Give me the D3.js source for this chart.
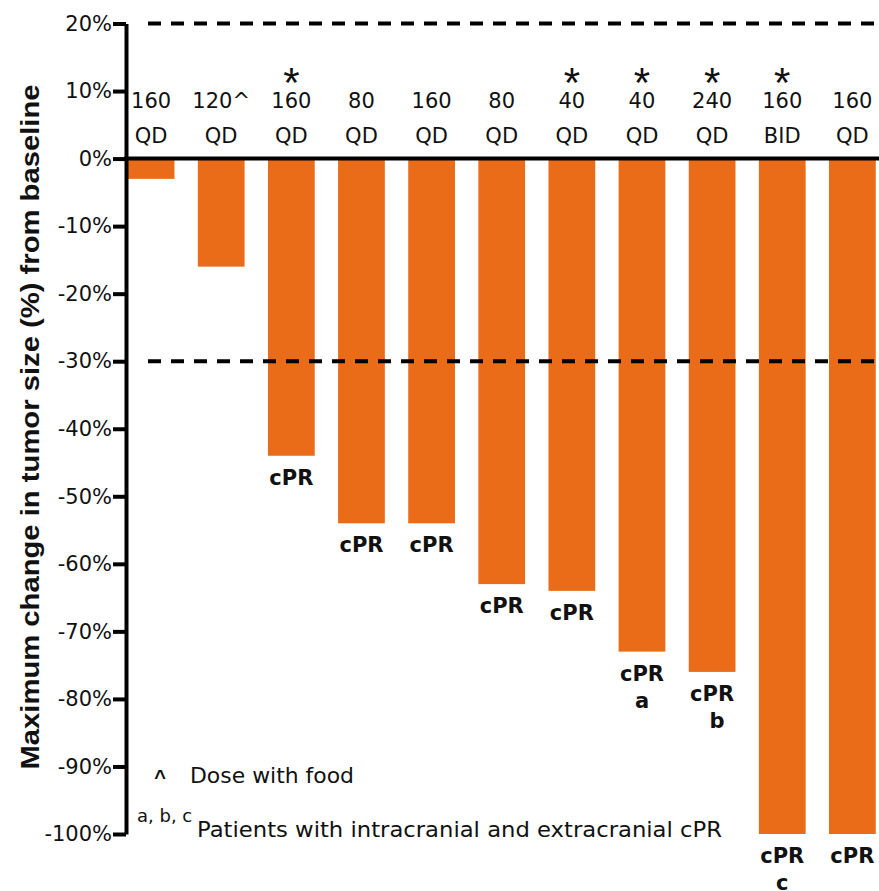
<!DOCTYPE html>
<html>
<head>
<meta charset="utf-8">
<script src="https://cdn.jsdelivr.net/npm/d3@7"></script>
<style>
  html, body { margin: 0; padding: 0; background: #fff; }
  svg { display: block; }
</style>
</head>
<body>
<script>
// Per-patient dose, regimen and best change in tumour size
const doses     = ["160", "120^", "160", "80", "160", "80", "40", "40", "240", "160", "160"];
const regimens  = ["QD", "QD", "QD", "QD", "QD", "QD", "QD", "QD", "QD", "BID", "QD"];
const changes   = [-3, -16, -44, -54, -54, -63, -64, -73, -76, -100, -100];
const starred   = [false, false, true, false, false, false, true, true, true, true, false];
const responses = ["", "", "cPR", "cPR", "cPR", "cPR", "cPR", "cPR", "cPR", "cPR", "cPR"];
const footnotes = ["", "", "", "", "", "", "", "a", "b", "c", ""];
const yTicks    = [20, 10, 0, -10, -20, -30, -40, -50, -60, -70, -80, -90, -100];
const refLines  = [20, -30];

const W = 879, H = 891;
const ORANGE = "#EA6B18";
const INK = "#111";
const FONT = "'DejaVu Sans', sans-serif";

const svg = d3.select("body").append("svg")
  .attr("width", W).attr("height", H)
  .attr("viewBox", `0 0 ${W} ${H}`);

const y = d3.scaleLinear().domain([-100, 20]).range([834, 23.5]);
const x = d3.scaleBand()
  .domain(d3.range(changes.length))
  .range([127.7, 875.75])
  .paddingInner(1 / 3)
  .paddingOuter(0);

const axisX = 126;

// bars
svg.append("g").selectAll("rect")
  .data(changes)
  .join("rect")
  .attr("x", (d, i) => x(i))
  .attr("width", x.bandwidth())
  .attr("y", y(0))
  .attr("height", d => y(d) - y(0))
  .attr("fill", ORANGE);

// reference lines at +20% and -30%
svg.append("g").selectAll("line")
  .data(refLines)
  .join("line")
  .attr("x1", 148).attr("x2", W)
  .attr("y1", d => y(d)).attr("y2", d => y(d))
  .attr("stroke", "#000")
  .attr("stroke-width", 4)
  .attr("stroke-dasharray", "13,10");

// zero baseline
svg.append("line")
  .attr("x1", axisX - 2).attr("x2", W)
  .attr("y1", y(0)).attr("y2", y(0))
  .attr("stroke", "#000").attr("stroke-width", 4);

// y axis
const yAxis = svg.append("g")
  .attr("transform", `translate(${axisX},0)`)
  .call(d3.axisLeft(y)
    .tickValues(yTicks)
    .tickSize(13)
    .tickSizeOuter(0)
    .tickPadding(1)
    .tickFormat(d => d + "%"));
yAxis.select(".domain").attr("stroke", "#000").attr("stroke-width", 4);
yAxis.selectAll(".tick line").attr("stroke", "#000").attr("stroke-width", 4);
yAxis.selectAll(".tick text")
  .attr("font-family", FONT)
  .attr("font-size", 21)
  .attr("fill", INK);

// y axis title
svg.append("text")
  .attr("transform", `translate(39,427) rotate(-90)`)
  .attr("text-anchor", "middle")
  .attr("font-family", "'Liberation Sans', Arial, sans-serif")
  .attr("font-weight", "bold")
  .attr("font-size", 26)
  .attr("fill", INK)
  .attr("textLength", 685)
  .attr("lengthAdjust", "spacingAndGlyphs")
  .text("Maximum change in tumor size (%) from baseline");

// dose / regimen labels above the baseline
const cx = i => x(i) + x.bandwidth() / 2;
const doseLayer = svg.append("g")
  .attr("font-family", FONT)
  .attr("font-size", 21)
  .attr("fill", INK)
  .attr("text-anchor", "middle");
doseLayer.selectAll("text.dose")
  .data(doses)
  .join("text")
  .attr("class", "dose")
  .attr("x", (d, i) => cx(i))
  .attr("y", 108)
  .text(d => d);
doseLayer.selectAll("text.reg")
  .data(regimens)
  .join("text")
  .attr("class", "reg")
  .attr("x", (d, i) => cx(i))
  .attr("y", 143)
  .text(d => d);

// asterisks
svg.append("g").selectAll("text")
  .data(starred.map((s, i) => ({ s, i })).filter(d => d.s))
  .join("text")
  .attr("x", d => cx(d.i))
  .attr("y", 97)
  .attr("text-anchor", "middle")
  .attr("font-family", "'Liberation Sans', Arial, sans-serif")
  .attr("font-size", 42)
  .attr("fill", INK)
  .text("*");

// response labels under the bars
const respLayer = svg.append("g")
  .attr("font-family", FONT)
  .attr("font-size", 21)
  .attr("font-weight", "bold")
  .attr("fill", INK)
  .attr("text-anchor", "middle");
respLayer.selectAll("text.resp")
  .data(responses.map((r, i) => ({ r, i })).filter(d => d.r))
  .join("text")
  .attr("class", "resp")
  .attr("x", d => cx(d.i))
  .attr("y", d => y(changes[d.i]) + 29)
  .text(d => d.r);
respLayer.selectAll("text.fn")
  .data(footnotes.map((f, i) => ({ f, i })).filter(d => d.f))
  .join("text")
  .attr("class", "fn")
  .attr("x", d => cx(d.i) + (d.f === "b" ? 5 : 0))
  .attr("y", d => y(changes[d.i]) + 56)
  .text(d => d.f);

// footnotes
const notes = svg.append("g").attr("fill", INK);
notes.append("text")
  .attr("x", 160).attr("y", 784)
  .attr("text-anchor", "middle")
  .attr("font-family", "'Liberation Sans', Arial, sans-serif")
  .attr("font-weight", "bold")
  .attr("font-size", 20)
  .text("^");
notes.append("text")
  .attr("x", 190).attr("y", 783)
  .attr("font-family", FONT)
  .attr("font-size", 21.5)
  .attr("textLength", 164)
  .attr("lengthAdjust", "spacingAndGlyphs")
  .text("Dose with food");
notes.append("text")
  .attr("x", 137).attr("y", 822)
  .attr("font-family", FONT)
  .attr("font-size", 18)
  .text("a, b, c");
notes.append("text")
  .attr("x", 197).attr("y", 837)
  .attr("font-family", FONT)
  .attr("font-size", 21.5)
  .attr("textLength", 525)
  .attr("lengthAdjust", "spacingAndGlyphs")
  .text("Patients with intracranial and extracranial cPR");
</script>
</body>
</html>
